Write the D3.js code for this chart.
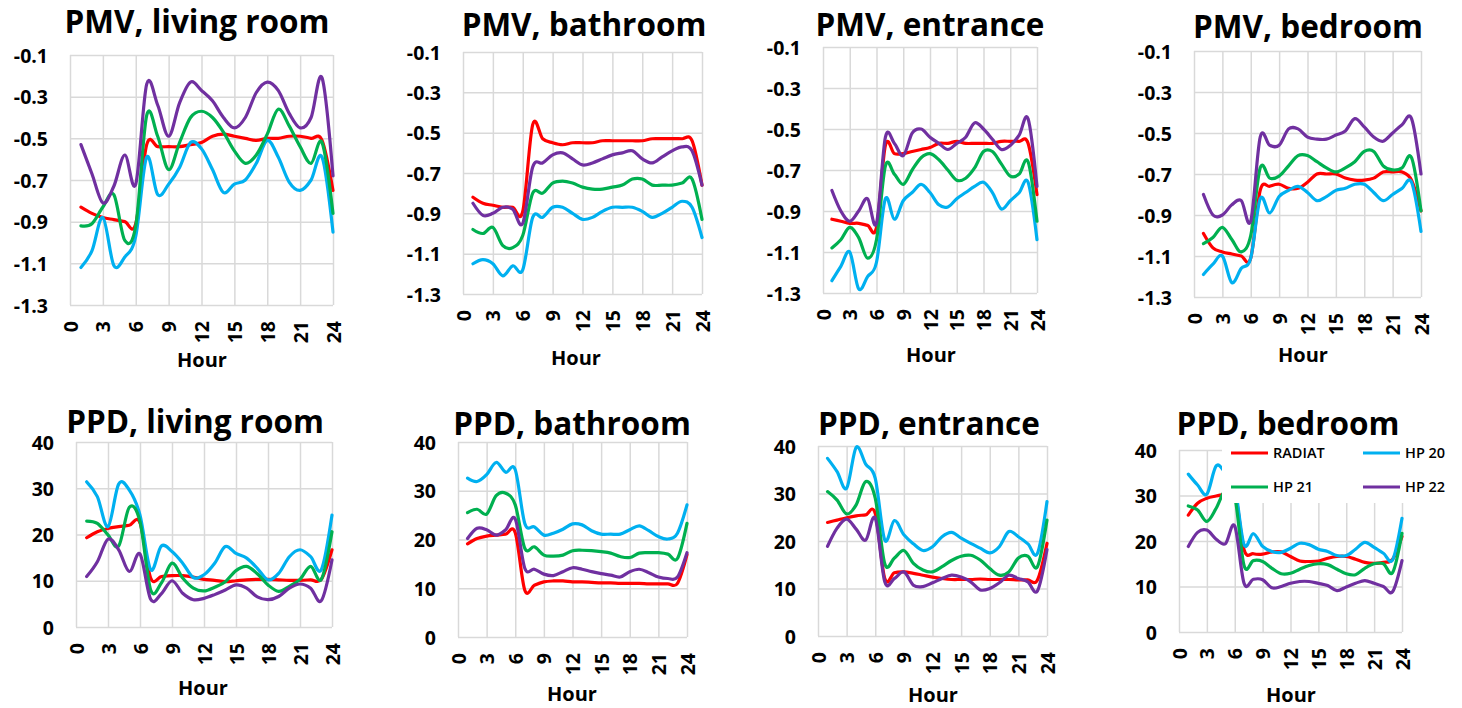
<!DOCTYPE html>
<html lang="en">
<head>
<meta charset="UTF-8">
<title>PMV and PPD by room</title>
<style>
  body { margin: 0; background: #ffffff; font-family: 'Open Sans', sans-serif; }
  text { fill: #000000; }
</style>
</head>
<body>
<svg id="chart" width="1462" height="708"></svg>
<script src="https://d3js.org/d3.v7.min.js"></script>
<script>
const hours = [1,2,3,4,5,6,7,8,9,10,11,12,13,14,15,16,17,18,19,20,21,22,23,24];
const hourTicks = [0,3,6,9,12,15,18,21,24];
const pmvTicks = [-1.3,-1.1,-0.9,-0.7,-0.5,-0.3,-0.1];
const ppdTicks = [0,10,20,30,40];
const seriesNames = ["RADIAT","HP 20","HP 21","HP 22"];
const seriesColors = ["#ff0000","#00b0f0","#00b050","#7030a0"];

// PMV, living room
const pmvLivingRadiat = [-0.83,-0.86,-0.88,-0.89,-0.90,-0.91,-0.53,-0.54,-0.54,-0.54,-0.53,-0.52,-0.49,-0.48,-0.49,-0.50,-0.51,-0.50,-0.50,-0.49,-0.49,-0.50,-0.51,-0.75];
const pmvLivingHp20 = [-1.12,-1.04,-0.88,-1.11,-1.07,-0.97,-0.59,-0.77,-0.72,-0.64,-0.52,-0.55,-0.65,-0.76,-0.72,-0.70,-0.62,-0.51,-0.59,-0.71,-0.75,-0.70,-0.59,-0.95];
const pmvLivingHp21 = [-0.92,-0.91,-0.83,-0.77,-0.99,-0.92,-0.39,-0.49,-0.65,-0.52,-0.40,-0.37,-0.40,-0.47,-0.56,-0.62,-0.58,-0.48,-0.36,-0.44,-0.54,-0.62,-0.52,-0.86];
const pmvLivingHp22 = [-0.53,-0.67,-0.81,-0.73,-0.58,-0.72,-0.24,-0.34,-0.49,-0.33,-0.23,-0.27,-0.32,-0.40,-0.45,-0.40,-0.28,-0.23,-0.27,-0.38,-0.45,-0.40,-0.21,-0.68];

// PMV, bathroom
const pmvBathRadiat = [-0.82,-0.85,-0.86,-0.87,-0.87,-0.89,-0.46,-0.53,-0.55,-0.56,-0.55,-0.55,-0.55,-0.54,-0.54,-0.54,-0.54,-0.54,-0.53,-0.53,-0.53,-0.53,-0.54,-0.76];
const pmvBathHp20 = [-1.15,-1.13,-1.15,-1.21,-1.16,-1.18,-0.92,-0.92,-0.87,-0.87,-0.90,-0.93,-0.92,-0.89,-0.87,-0.87,-0.87,-0.89,-0.92,-0.90,-0.87,-0.84,-0.87,-1.02];
const pmvBathHp21 = [-0.98,-1.00,-0.97,-1.06,-1.07,-1.01,-0.80,-0.80,-0.75,-0.74,-0.75,-0.77,-0.78,-0.78,-0.77,-0.76,-0.73,-0.73,-0.76,-0.76,-0.76,-0.75,-0.73,-0.93];
const pmvBathHp22 = [-0.85,-0.91,-0.90,-0.87,-0.88,-0.95,-0.67,-0.65,-0.61,-0.60,-0.63,-0.66,-0.65,-0.63,-0.61,-0.60,-0.59,-0.63,-0.65,-0.62,-0.59,-0.57,-0.59,-0.76];

// PMV, entrance
const pmvEntrRadiat = [-0.94,-0.95,-0.96,-0.96,-0.97,-0.98,-0.58,-0.62,-0.62,-0.61,-0.60,-0.59,-0.57,-0.57,-0.56,-0.57,-0.57,-0.57,-0.57,-0.56,-0.56,-0.56,-0.57,-0.82];
const pmvEntrHp20 = [-1.24,-1.17,-1.10,-1.28,-1.22,-1.15,-0.84,-0.94,-0.85,-0.81,-0.77,-0.81,-0.87,-0.88,-0.84,-0.81,-0.78,-0.76,-0.81,-0.89,-0.85,-0.81,-0.76,-1.04];
const pmvEntrHp21 = [-1.08,-1.04,-0.98,-1.03,-1.13,-1.04,-0.68,-0.72,-0.77,-0.70,-0.64,-0.62,-0.65,-0.70,-0.75,-0.74,-0.69,-0.61,-0.61,-0.67,-0.73,-0.72,-0.66,-0.95];
const pmvEntrHp22 = [-0.80,-0.90,-0.95,-0.90,-0.84,-0.96,-0.54,-0.57,-0.63,-0.52,-0.50,-0.54,-0.57,-0.60,-0.57,-0.54,-0.47,-0.50,-0.55,-0.60,-0.58,-0.53,-0.45,-0.78];

// PMV, bedroom
const pmvBedRadiat = [-0.99,-1.06,-1.08,-1.09,-1.10,-1.11,-0.78,-0.76,-0.75,-0.77,-0.77,-0.74,-0.70,-0.70,-0.70,-0.72,-0.73,-0.73,-0.72,-0.69,-0.69,-0.69,-0.73,-0.88];
const pmvBedHp20 = [-1.19,-1.14,-1.10,-1.23,-1.16,-1.11,-0.82,-0.89,-0.81,-0.78,-0.76,-0.79,-0.83,-0.81,-0.78,-0.77,-0.75,-0.75,-0.79,-0.83,-0.80,-0.77,-0.74,-0.98];
const pmvBedHp21 = [-1.04,-1.01,-0.96,-1.02,-1.08,-1.00,-0.67,-0.72,-0.71,-0.66,-0.61,-0.61,-0.64,-0.67,-0.69,-0.67,-0.64,-0.59,-0.59,-0.66,-0.68,-0.67,-0.62,-0.88];
const pmvBedHp22 = [-0.80,-0.90,-0.90,-0.85,-0.83,-0.93,-0.52,-0.56,-0.56,-0.48,-0.48,-0.52,-0.53,-0.53,-0.51,-0.49,-0.43,-0.47,-0.52,-0.54,-0.50,-0.46,-0.43,-0.70];

// PPD, living room
const ppdLivingRadiat = [19.3,20.6,21.3,21.7,22.0,22.5,10.6,10.9,11.1,11.1,10.8,10.3,10.1,9.8,10.0,10.2,10.3,10.3,10.2,10.1,10.1,10.2,10.3,16.7];
const ppdLivingHp20 = [31.4,28.2,21.7,30.9,29.6,24.2,12.4,17.5,16.3,13.8,10.7,11.3,13.8,17.4,15.9,14.9,12.7,10.2,11.6,15.2,16.7,15.2,12.4,24.2];
const ppdLivingHp21 = [22.9,22.4,19.9,17.5,25.9,22.8,8.0,9.5,13.8,10.6,8.4,7.8,8.6,9.8,12.2,13.1,11.5,9.1,7.7,8.8,10.3,13.1,10.3,20.6];
const ppdLivingHp22 = [10.9,14.1,19.0,16.7,12.0,15.8,6.0,7.2,10.0,7.3,5.9,6.2,7.0,8.0,9.1,8.4,6.5,5.9,6.6,8.4,9.3,8.4,5.7,14.5];

// PPD, bathroom
const ppdBathRadiat = [19.1,20.2,20.7,20.9,21.1,21.4,9.6,10.6,11.3,11.5,11.5,11.3,11.3,11.2,11.1,11.1,11.0,11.0,11.0,10.9,10.9,10.9,11.0,16.9];
const ppdBathHp20 = [32.6,31.9,33.3,35.8,33.8,34.3,23.3,22.6,20.9,21.3,22.1,23.2,23.0,21.8,21.1,21.1,21.1,22.0,22.8,21.8,20.6,20.1,21.3,27.1];
const ppdBathHp21 = [25.5,26.2,25.2,29.0,29.5,27.1,18.2,18.5,16.8,16.6,16.8,17.7,17.8,17.7,17.5,17.2,16.5,16.3,17.2,17.3,17.3,17.0,16.1,23.3];
const ppdBathHp22 = [20.2,22.3,22.0,20.9,22.0,24.2,14.1,13.9,12.9,12.6,13.4,14.2,13.9,13.4,13.0,12.7,12.3,13.4,13.9,13.2,12.3,12.0,12.3,17.3];

// PPD, entrance
const ppdEntrRadiat = [23.9,24.4,24.9,25.3,25.5,25.8,12.1,13.3,13.5,13.2,12.8,12.4,12.1,11.9,11.9,11.9,12.0,11.9,11.9,11.9,11.8,11.8,11.8,19.5];
const ppdEntrHp20 = [37.4,34.6,31.1,39.7,36.2,33.2,20.2,24.3,21.3,19.4,18.0,18.8,20.9,21.8,20.6,19.5,18.5,17.5,18.8,22.0,20.9,19.4,17.4,28.3];
const ppdEntrHp21 = [30.4,28.6,25.7,27.6,32.5,29.0,15.2,16.4,18.0,15.3,13.9,13.5,14.6,15.9,16.8,17.0,16.0,14.2,12.8,13.5,16.4,16.8,14.6,24.4];
const ppdEntrHp22 = [18.9,22.7,24.6,22.5,20.2,24.8,11.4,12.1,13.5,10.7,10.4,11.2,12.1,12.8,12.4,11.4,9.7,10.0,11.2,12.8,12.1,11.4,9.5,18.2];

// PPD, bedroom
const ppdBedRadiat = [25.7,28.3,29.4,29.9,30.3,30.9,18.1,17.2,17.1,17.6,17.6,16.6,15.6,15.5,15.6,16.2,16.6,16.6,16.0,15.3,15.1,15.3,16.0,21.0];
const ppdBedHp20 = [34.7,32.3,30.3,36.5,34.9,32.0,19.2,21.6,18.8,17.7,17.5,18.4,19.5,19.2,18.2,17.7,16.8,16.8,18.2,19.7,18.6,17.3,15.9,25.0];
const ppdBedHp21 = [27.7,26.8,24.3,27.2,31.2,29.8,14.6,15.7,15.5,14.0,12.8,12.9,13.8,14.6,15.0,14.8,13.8,12.8,12.6,14.0,15.0,15.0,13.1,21.7];
const ppdBedHp22 = [18.8,21.9,22.4,20.4,19.4,23.3,10.7,11.6,11.5,9.7,10.0,10.7,11.1,11.1,10.7,10.2,9.1,9.9,10.7,11.3,10.7,10.0,8.9,15.7];

const panels = [
  {title: "PMV, living room", series: [pmvLivingRadiat, pmvLivingHp20, pmvLivingHp21, pmvLivingHp22], ticks: pmvTicks, digits: 1,
   left: 70, right: 333, top: 55, bottom: 305, titleX: 197, titleY: 33, hourX: 202, hourY: 367},
  {title: "PMV, bathroom", series: [pmvBathRadiat, pmvBathHp20, pmvBathHp21, pmvBathHp22], ticks: pmvTicks, digits: 1,
   left: 463, right: 702, top: 52, bottom: 294, titleX: 584, titleY: 36, hourX: 576, hourY: 365},
  {title: "PMV, entrance", series: [pmvEntrRadiat, pmvEntrHp20, pmvEntrHp21, pmvEntrHp22], ticks: pmvTicks, digits: 1,
   left: 823, right: 1037, top: 47, bottom: 293, titleX: 930, titleY: 36, hourX: 931, hourY: 362},
  {title: "PMV, bedroom", series: [pmvBedRadiat, pmvBedHp20, pmvBedHp21, pmvBedHp22], ticks: pmvTicks, digits: 1,
   left: 1194, right: 1421, top: 51, bottom: 297, titleX: 1308, titleY: 38, hourX: 1303, hourY: 362},
  {title: "PPD, living room", series: [ppdLivingRadiat, ppdLivingHp20, ppdLivingHp21, ppdLivingHp22], ticks: ppdTicks, digits: 0,
   left: 76, right: 332, top: 442, bottom: 627, titleX: 195, titleY: 433, hourX: 203, hourY: 695},
  {title: "PPD, bathroom", series: [ppdBathRadiat, ppdBathHp20, ppdBathHp21, ppdBathHp22], ticks: ppdTicks, digits: 0,
   left: 458, right: 687, top: 442, bottom: 637, titleX: 572, titleY: 435, hourX: 572, hourY: 701},
  {title: "PPD, entrance", series: [ppdEntrRadiat, ppdEntrHp20, ppdEntrHp21, ppdEntrHp22], ticks: ppdTicks, digits: 0,
   left: 818, right: 1047, top: 446, bottom: 636, titleX: 929, titleY: 435, hourX: 933, hourY: 702},
  {title: "PPD, bedroom", series: [ppdBedRadiat, ppdBedHp20, ppdBedHp21, ppdBedHp22], ticks: ppdTicks, digits: 0,
   left: 1179, right: 1402, top: 450, bottom: 632, titleX: 1288, titleY: 435, hourX: 1291, hourY: 702, legend: true}
];

const svg = d3.select("#chart");

panels.forEach(p => {
  const g = svg.append("g");
  const x = d3.scaleLinear().domain([0, 24]).range([p.left, p.right]);
  const y = d3.scaleLinear().domain(d3.extent(p.ticks)).range([p.bottom, p.top]);

  // horizontal grid + y labels
  const yAxis = g.append("g")
    .attr("transform", `translate(${p.left},0)`)
    .call(d3.axisLeft(y).tickValues(p.ticks).tickSize(-(p.right - p.left)).tickPadding(22)
      .tickFormat(v => v.toFixed(p.digits)));
  // vertical grid + rotated x labels
  const xAxis = g.append("g")
    .attr("transform", `translate(0,${p.bottom})`)
    .call(d3.axisBottom(x).tickValues(hourTicks).tickSize(-(p.bottom - p.top)).tickFormat(d3.format("d")));

  [yAxis, xAxis].forEach(a => {
    a.select(".domain").remove();
    a.selectAll(".tick line").attr("stroke", "#d9d9d9").attr("stroke-width", 1.5);
    a.selectAll(".tick text")
      .attr("fill", "#000")
      .style("font-family", "'Open Sans', sans-serif")
      .style("font-weight", "700")
      .style("font-size", "19.5px");
  });
  yAxis.selectAll(".tick text").attr("dy", "0.36em");
  xAxis.selectAll(".tick text")
    .attr("transform", "rotate(-90)")
    .attr("x", -16).attr("y", 0).attr("dy", "0.36em")
    .style("text-anchor", "end");

  const line = d3.line()
    .x((d, i) => x(hours[i]))
    .y(d => y(d))
    .curve(d3.curveCardinal.tension(0));

  p.series.forEach((s, i) => {
    g.append("path")
      .attr("d", line(s))
      .attr("fill", "none")
      .attr("stroke", seriesColors[i])
      .attr("stroke-width", 3.2)
      .attr("stroke-linejoin", "round")
      .attr("stroke-linecap", "round");
  });

  g.append("text")
    .attr("x", p.titleX).attr("y", p.titleY)
    .attr("text-anchor", "middle")
    .style("font-size", "31.5px").style("font-weight", "700")
    .text(p.title);

  g.append("text")
    .attr("x", p.hourX).attr("y", p.hourY)
    .attr("text-anchor", "middle")
    .style("font-size", "20px").style("font-weight", "700")
    .text("Hour");

  if (p.legend) {
    const lg = g.append("g");
    lg.append("rect")
      .attr("x", 1222).attr("y", 446).attr("width", 232).attr("height", 57)
      .attr("fill", "#ffffff");
    seriesNames.forEach((name, i) => {
      const lx = 1231 + (i % 2) * 132;
      const ly = 453 + Math.floor(i / 2) * 34;
      lg.append("line")
        .attr("x1", lx).attr("x2", lx + 37).attr("y1", ly).attr("y2", ly)
        .attr("stroke", seriesColors[i]).attr("stroke-width", 3.2);
      lg.append("text")
        .attr("x", lx + 42).attr("y", ly).attr("dy", "0.36em")
        .style("font-size", "14.5px").style("font-weight", "600")
        .text(name);
    });
  }
});
</script>
</body>
</html>
